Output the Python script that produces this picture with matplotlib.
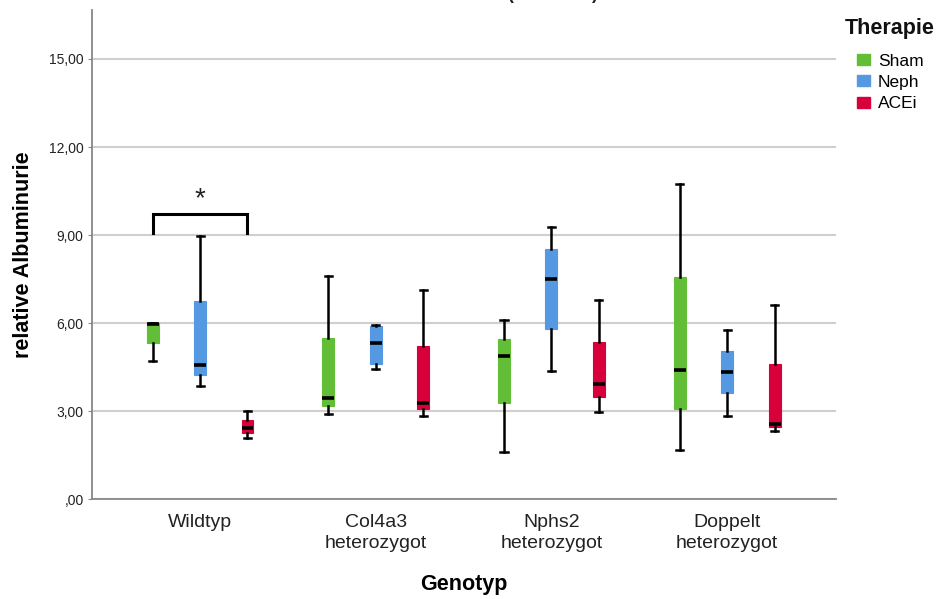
import matplotlib
matplotlib.use("Agg")
import matplotlib.pyplot as plt
from matplotlib.patches import Patch

plt.rcParams['font.family'] = ['Liberation Sans', 'DejaVu Sans']

# Data: box-plot summary per genotype and therapy
genotypes = ["Wildtyp", "Col4a3\nheterozygot", "Nphs2\nheterozygot", "Doppelt\nheterozygot"]
therapies = ["Sham", "Neph", "ACEi"]
colors = ["#62BE37", "#5599E2", "#D7003A"]

# [whisker low, Q1, median, Q3, whisker high] for each genotype, per therapy
sham_stats = [[4.70, 5.32, 5.97, 6.00, 6.00],
              [2.90, 3.17, 3.44, 5.49, 7.60],
              [1.60, 3.27, 4.87, 5.46, 6.10],
              [1.67, 3.07, 4.40, 7.57, 10.74]]
neph_stats = [[3.85, 4.23, 4.57, 6.75, 8.97],
              [4.43, 4.60, 5.32, 5.90, 5.93],
              [4.36, 5.80, 7.50, 8.52, 9.27],
              [2.84, 3.60, 4.33, 5.05, 5.76]]
acei_stats = [[2.08, 2.25, 2.42, 2.69, 3.00],
              [2.83, 3.07, 3.27, 5.22, 7.13],
              [2.97, 3.48, 3.92, 5.35, 6.78],
              [2.33, 2.46, 2.56, 4.60, 6.61]]
series = [sham_stats, neph_stats, acei_stats]

y_ticks = [0, 3, 6, 9, 12, 15]
y_tick_labels = [",00", "3,00", "6,00", "9,00", "12,00", "15,00"]

# Significance bracket between Wildtyp Sham and Wildtyp ACEi
bracket_low, bracket_high = 9.07, 9.72

fig = plt.figure(figsize=(9.36, 5.99), dpi=100)
ax = fig.add_axes([0.0983, 0.1669, 0.7949, 0.8164])

offsets = [-0.27, 0.0, 0.27]
box_w = 0.068
for stats_list, col, off in zip(series, colors, offsets):
    stats = [dict(whislo=s[0], q1=s[1], med=s[2], q3=s[3], whishi=s[4], fliers=[])
             for s in stats_list]
    positions = [i + off for i in range(len(genotypes))]
    ax.bxp(stats, positions=positions, widths=box_w, patch_artist=True,
           showfliers=False, manage_ticks=False,
           boxprops=dict(facecolor=col, edgecolor=col, linewidth=0.8),
           medianprops=dict(color="black", linewidth=2.6, solid_capstyle="butt"),
           whiskerprops=dict(color="black", linewidth=1.8),
           capprops=dict(color="black", linewidth=1.8),
           capwidths=0.04, zorder=3)

# Bracket with asterisk
x0, x1 = offsets[0], offsets[2]
ax.plot([x0, x0, x1, x1], [bracket_low, bracket_high, bracket_high, bracket_low],
        color="black", linewidth=2.2, solid_joinstyle="miter", zorder=4)
ax.text(0, bracket_high + 0.05, "*", ha="center", va="bottom", fontsize=20, color="#222222")

ax.set_xlim(-0.615, 3.62)
ax.set_ylim(0, 16.67)
ax.set_xticks(range(len(genotypes)))
ax.set_xticklabels(genotypes, fontsize=14, color="#222222", linespacing=1.25)
ax.set_yticks(y_ticks)
ax.set_yticklabels(y_tick_labels, fontsize=10, color="#222222")
ax.tick_params(axis="x", length=0, pad=11)
ax.tick_params(axis="y", length=3, color="#888888", pad=3)
ax.yaxis.grid(True, color="#CFCFCF", linewidth=1.5)
ax.set_axisbelow(True)
for side in ("top", "right"):
    ax.spines[side].set_visible(False)
for side in ("left", "bottom"):
    ax.spines[side].set_color("#888888")
    ax.spines[side].set_linewidth(1.3)

ax.set_ylabel("relative Albuminurie", fontsize=15.5, fontweight="bold", labelpad=11)
ax.set_xlabel("Genotyp", fontsize=15.5, fontweight="bold", labelpad=16)

# Legend: title placed separately, entries below
fig.text(845 / 936, 1 - 34 / 599, "Therapie", ha="left", va="baseline",
         fontsize=15.5, fontweight="bold", color="#111111")
handles = [Patch(facecolor=c, edgecolor=c, label=t) for t, c in zip(therapies, colors)]
fig.legend(handles=handles, loc="upper left",
           bbox_to_anchor=(857 / 936, 1 - 54 / 599), frameon=False, fontsize=12.5,
           handlelength=0.75, handleheight=0.6, handletextpad=0.45,
           labelspacing=0.35, borderaxespad=0, borderpad=0)

# Chart title (partially outside the canvas)
fig.text(0.59, 1 + 1 / 599, "(männlich)", ha="center", va="baseline",
         fontsize=13, fontweight="bold", color="#222222")

fig.savefig("out.png", dpi=100)
